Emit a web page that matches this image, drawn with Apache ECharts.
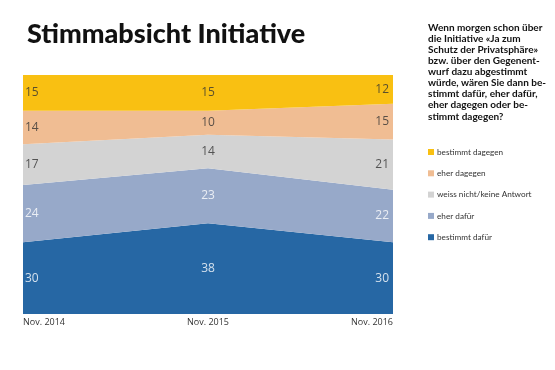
<!DOCTYPE html>
<html>
<head>
<meta charset="utf-8">
<script src="https://cdn.jsdelivr.net/npm/echarts@6/dist/echarts.min.js"></script>
<style>html,body{margin:0;padding:0;background:#fff;}#c{width:555px;height:370px;}</style>
</head>
<body>
<div id="c"></div>
<script>
var categories = ['Nov. 2014', 'Nov. 2015', 'Nov. 2016'];
var bestimmtDafuer = [30, 38, 30];
var eherDafuer = [24, 23, 22];
var weissNicht = [17, 14, 21];
var eherDagegen = [14, 10, 15];
var bestimmtDagegen = [15, 15, 12];
var seriesNames = ['bestimmt dafür', 'eher dafür', 'weiss nicht/keine Antwort', 'eher dagegen', 'bestimmt dagegen'];
var seriesValues = [bestimmtDafuer, eherDafuer, weissNicht, eherDagegen, bestimmtDagegen];
var colors = ['#2667A4', '#97A9C9', '#D3D3D3', '#F0BD93', '#F9C012'];
var labelColors = ['#ffffff', '#ffffff', '#333333', '#333333', '#333333'];
var questionText = [
  'Wenn morgen schon über',
  'die Initiative «Ja zum',
  'Schutz der Privatsphäre»',
  'bzw. über den Gegenent-',
  'wurf dazu abgestimmt',
  'würde, wären Sie dann be-',
  'stimmt dafür, eher dafür,',
  'eher dagegen oder be-',
  'stimmt dagegen?'
];
var FONT = 'Open Sans';
var SMALL = 'Lato';

var chart = echarts.init(document.getElementById('c'), null, {renderer: 'canvas'});
var series = [];
seriesValues.forEach(function (vals, s) {
  series.push({
    name: seriesNames[s],
    type: 'line',
    stack: 'total',
    data: vals,
    symbol: 'none',
    showSymbol: false,
    lineStyle: {width: 0},
    itemStyle: {color: colors[s]},
    areaStyle: {color: colors[s], opacity: 1},
    silent: true,
    z: 2
  });
});
var aligns = ['left', 'center', 'right'];
var offsets = [[2, 0], [0, 0], [-4, 0]];
seriesValues.forEach(function (vals, s) {
  var pts = vals.map(function (v, i) {
    var below = 0;
    for (var k = 0; k < s; k++) below += seriesValues[k][i];
    return {
      value: [i, below + v / 2, v],
      label: {align: aligns[i], offset: offsets[i]}
    };
  });
  series.push({
    type: 'scatter',
    data: pts,
    symbolSize: 0,
    silent: true,
    z: 5,
    label: {
      show: true,
      position: 'inside',
      formatter: function (p) { return p.value[2]; },
      color: labelColors[s],
      fontSize: 12,
      fontFamily: FONT
    }
  });
});

chart.setOption({
  animation: false,
  textStyle: {fontFamily: FONT},
  title: {
    text: 'Stimmabsicht Initiative',
    left: 22,
    top: 16,
    textStyle: {fontSize: 27, fontWeight: 900, color: '#111', fontFamily: SMALL}
  },
  grid: {left: 23, right: 162, top: 75, bottom: 56, containLabel: false},
  xAxis: {
    type: 'category',
    data: categories,
    boundaryGap: false,
    axisLine: {show: false},
    axisTick: {show: false},
    axisLabel: {
      color: '#333', fontSize: 9, fontFamily: FONT, margin: 4,
      alignMinLabel: 'left', alignMaxLabel: 'right'
    },
    splitLine: {show: false}
  },
  yAxis: {type: 'value', min: 0, max: 100, show: false},
  legend: {
    data: seriesNames.slice().reverse(),
    orient: 'vertical',
    left: 423,
    top: 142,
    icon: 'rect',
    itemWidth: 6,
    itemHeight: 6,
    itemGap: 11.3,
    selectedMode: false,
    textStyle: {fontSize: 8.2, color: '#333', fontFamily: SMALL, lineHeight: 10, padding: [0, 0, 0, -2]}
  },
  graphic: [{
    type: 'text',
    left: 428,
    top: 22,
    style: {
      text: questionText.join('\n'),
      font: 'bold 10px "' + SMALL + '"',
      lineHeight: 11.1,
      fill: '#111'
    }
  }],
  series: series
});
</script>
</body>
</html>
